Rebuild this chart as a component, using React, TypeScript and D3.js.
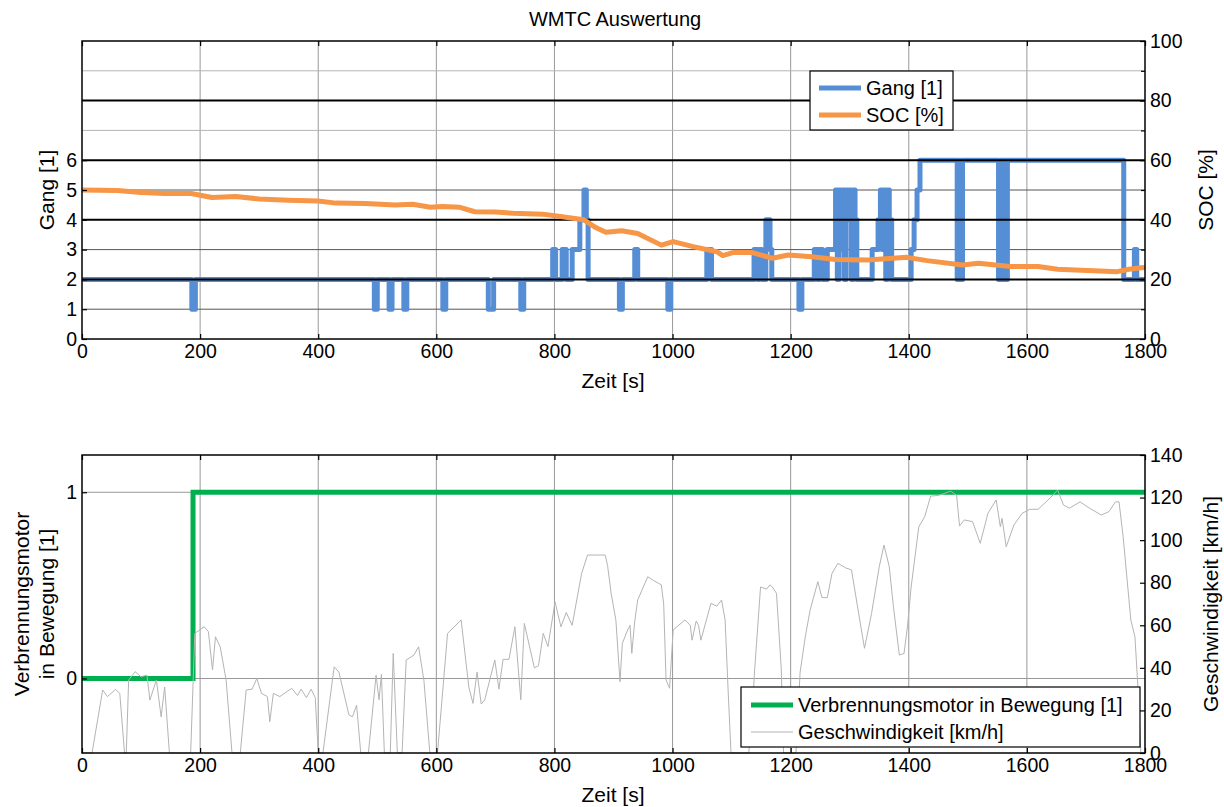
import React, { useEffect, useRef } from 'react';
import * as d3 from 'd3';

// Gang (gear) as step changes: time [s] -> gear
const gangTime = [0, 186, 192, 495, 500, 520, 525, 545, 550, 611, 616, 688, 697, 743, 748,
  797, 802, 813, 820, 830, 843, 850, 854, 857, 910, 915, 936, 941, 992, 997, 1058, 1066,
  1138, 1144, 1147, 1151, 1158, 1165, 1168, 1214, 1219, 1240, 1245, 1249, 1254, 1262,
  1276, 1279, 1282, 1285, 1288, 1291, 1294, 1297, 1300, 1303, 1306, 1309, 1312,
  1338, 1348, 1352, 1355, 1358, 1361, 1364, 1367, 1371, 1404, 1409, 1414, 1419,
  1482, 1485, 1488, 1491, 1552, 1555, 1558, 1561, 1564, 1567, 1764, 1782, 1786, 1800];
const gangValue = [2, 1, 2, 1, 2, 1, 2, 1, 2, 1, 2, 1, 2, 1, 2,
  3, 2, 3, 2, 3, 4, 5, 4, 2, 1, 2, 3, 2, 1, 2, 3, 2,
  3, 2, 3, 2, 4, 3, 2, 1, 2, 3, 2, 3, 2, 3,
  5, 2, 5, 3, 5, 2, 5, 4, 5, 2, 5, 4, 2,
  3, 4, 5, 3, 5, 2, 5, 4, 2, 3, 4, 5, 6,
  2, 6, 2, 6, 2, 6, 2, 6, 2, 6, 2, 3, 2, 2];

// SOC [%]
const socTime = [0, 60, 100, 140, 185, 220, 260, 300, 350, 400, 430, 480, 530, 560, 590, 610,
  640, 665, 700, 730, 780, 810, 850, 870, 887, 914, 941, 981, 1001, 1035, 1075, 1085, 1102,
  1135, 1169, 1196, 1236, 1276, 1330, 1397, 1431, 1491, 1518, 1572, 1619, 1652, 1713, 1753,
  1773, 1793, 1800];
const socValue = [50, 49.8, 49.2, 48.8, 48.8, 47.5, 47.8, 47, 46.6, 46.3, 45.6, 45.5, 45, 45.2, 44.2, 44.5,
  44.2, 42.7, 42.6, 42.2, 41.9, 41.1, 40, 37.4, 35.8, 36.3, 35.4, 31.5, 32.7, 31, 29.3, 28, 29,
  29, 27.1, 28.2, 27.6, 26.7, 26.5, 27.4, 26.3, 24.8, 25.4, 24.3, 24.3, 23.4, 22.9, 22.6,
  23.4, 23.9, 24];

// Verbrennungsmotor in Bewegung [1]
const motorTime = [0, 188, 1800];
const motorValue = [0, 1, 1];

// Geschwindigkeit [km/h]
const speedTime = [0, 17, 35, 43, 57, 64, 72, 75, 79, 90, 100, 110, 115, 126, 134, 140, 148, 184,
  191, 207, 214, 221, 226, 234, 244, 254, 268, 278, 288, 296, 304, 314, 318, 324, 335, 355, 365,
  371, 380, 388, 395, 400, 408, 427, 435, 452, 458, 465, 472, 485, 498, 503, 507, 512, 522, 527,
  534, 542, 549, 562, 570, 579, 589, 602, 619, 642, 655, 662, 669, 676, 682, 699, 706, 713, 723,
  733, 743, 749, 766, 773, 781, 789, 801, 811, 820, 830, 846, 856, 886, 890, 896, 904, 911, 915,
  924, 928, 931, 936, 941, 958, 968, 981, 985, 989, 995, 1001, 1021, 1030, 1033, 1040, 1044, 1048,
  1065, 1075, 1083, 1089, 1094, 1099, 1129, 1135, 1139, 1149, 1159, 1165, 1169, 1176, 1184, 1188,
  1209, 1216, 1225, 1233, 1246, 1253, 1262, 1270, 1280, 1293, 1303, 1317, 1325, 1337, 1350, 1358,
  1367, 1374, 1384, 1392, 1398, 1404, 1417, 1427, 1437, 1450, 1471, 1481, 1486, 1494, 1508, 1521,
  1534, 1548, 1555, 1558, 1565, 1578, 1592, 1605, 1619, 1639, 1652, 1662, 1672, 1690, 1706, 1726,
  1739, 1750, 1756, 1763, 1776, 1783, 1788, 1793, 1800];
const speedValue = [0, 0, 29.6, 26.5, 29.9, 28, 0, 0, 34.3, 38.2, 35.8, 36.6, 24.9, 34.3, 17, 31, 0, 0,
  56.2, 59.3, 57, 39, 54.6, 49.9, 34.3, 0, 0, 29.6, 30, 35, 28, 26.5, 14.7, 28, 26.5, 30.4, 27,
  30, 26, 30, 26, 0, 0, 40.5, 38, 17.9, 17, 22.5, 0, 0, 36.6, 25, 37, 0, 0, 46.8,
  0, 0, 43.7, 46, 49.9, 34, 0, 0, 56.2, 62.5, 31, 23.3, 38, 23, 25, 43.7, 30, 44, 44,
  59.3, 25, 60.9, 40, 41, 56.2, 50, 71, 59.3, 66, 60, 84.4, 93, 93, 88, 75, 62.5, 33.5, 51.5,
  57.8, 60, 46.8, 62, 71.9, 82.8, 81, 79, 70, 34.3, 30.4, 57.8, 62.5, 60, 53, 62, 60, 53,
  70.3, 69, 71.9, 62.5, 30, 0, 0, 20, 39, 78, 77, 79, 78, 75, 40, 0,
  0, 38, 55, 67.2, 80.5, 73, 73, 84.4, 89.1, 87, 86, 62.5, 49.2, 65.6, 87.5, 97.7,
  87.5, 68.7, 46, 46.8, 60, 78, 106.3, 111, 120.7, 121, 123, 121, 106.6, 109.5, 108.7, 98.5,
  112.6, 118.9, 106.3, 110.2, 96.9, 107.1, 112.6, 114.5, 114.5, 119.7, 123.5, 116.5, 115, 118, 115, 111.8,
  113.4, 118, 118, 101.6, 62.5, 54.6, 31, 0, 0];

const xTicks = [0, 200, 400, 600, 800, 1000, 1200, 1400, 1600, 1800];
const gangTicks = [0, 1, 2, 3, 4, 5, 6];
const socTicks = [0, 20, 40, 60, 80, 100];
const socMinorTicks = [10, 30, 50, 70, 90];
const motorTicks = [0, 1];
const speedTicks = [0, 20, 40, 60, 80, 100, 120, 140];

const FONT = 'Liberation Sans, Arial, sans-serif';
const BLUE = '#558ed5';
const ORANGE = '#f79646';
const GREEN = '#00b050';
const fmt = d3.format('d');
const TICK_FS = 19.5;
const LEG_FS = 20;
const LAB_FS = 21;

export default function App() {
  const ref = useRef<SVGSVGElement>(null);

  useEffect(() => {
    document.body.style.margin = '0';
    const svg = d3.select(ref.current);
    svg.selectAll('*').remove();

    const L = 82, R = 1145;
    const x = d3.scaleLinear().domain([0, 1800]).range([L, R]);
    // top panel
    const T1 = 41, B1 = 339;
    const yG = d3.scaleLinear().domain([0, 10]).range([B1, T1]);
    const yS = d3.scaleLinear().domain([0, 100]).range([B1, T1]);
    // bottom panel
    const T2 = 455, B2 = 753;
    const yM = d3.scaleLinear().domain([-0.4, 1.2]).range([B2, T2]);
    const yV = d3.scaleLinear().domain([0, 140]).range([B2, T2]);

    svg.append('rect').attr('width', 1224).attr('height', 807).attr('fill', 'white');

    const tickStyle = (g: any) => {
      g.select('.domain').remove();
      g.selectAll('line').attr('stroke', '#000').attr('stroke-width', 1.2);
      g.selectAll('text').attr('font-family', FONT).attr('font-size', TICK_FS).attr('fill', '#000');
    };

    const stepLine = (ys: any) => d3.line<[number, number]>()
      .x(d => x(d[0])).y(d => ys(d[1])).curve(d3.curveStepAfter);
    const plainLine = (ys: any) => d3.line<[number, number]>()
      .x(d => x(d[0])).y(d => ys(d[1]));

    // ---------- top panel ----------
    const top = svg.append('g');
    top.selectAll('.vg').data(xTicks.slice(1, -1)).join('line')
      .attr('x1', d => x(d)).attr('x2', d => x(d)).attr('y1', T1).attr('y2', B1)
      .attr('stroke', '#999').attr('stroke-width', 1);
    top.selectAll('.hg').data([1, 3, 5, 7, 9]).join('line')
      .attr('x1', L).attr('x2', R).attr('y1', d => yG(d)).attr('y2', d => yG(d))
      .attr('stroke', d => d > 6 ? '#b4b4b4' : '#555').attr('stroke-width', 1);

    top.append('path')
      .attr('d', stepLine(yG)(gangTime.map((t, i) => [t, gangValue[i]] as [number, number])))
      .attr('fill', 'none').attr('stroke', BLUE).attr('stroke-width', 5)
      .attr('stroke-linejoin', 'round');

    top.selectAll('.sg').data([20, 40, 60, 80]).join('line')
      .attr('x1', L).attr('x2', R).attr('y1', d => yS(d)).attr('y2', d => yS(d))
      .attr('stroke', '#000').attr('stroke-width', 2);

    top.append('path')
      .attr('d', plainLine(yS)(socTime.map((t, i) => [t, socValue[i]] as [number, number])))
      .attr('fill', 'none').attr('stroke', ORANGE).attr('stroke-width', 5)
      .attr('stroke-linejoin', 'round');

    top.append('g').attr('transform', `translate(0,${B1})`)
      .call(d3.axisBottom(x).tickValues(xTicks).tickFormat(fmt).tickSizeInner(-5).tickSizeOuter(0).tickPadding(5)).call(tickStyle);
    top.append('g').attr('transform', `translate(0,${T1})`)
      .call(d3.axisTop(x).tickValues(xTicks).tickFormat(() => '').tickSizeInner(-5).tickSizeOuter(0)).call(tickStyle);
    top.append('g').attr('transform', `translate(${L},0)`)
      .call(d3.axisLeft(yG).tickValues(gangTicks).tickFormat(fmt).tickSizeInner(-5).tickSizeOuter(0).tickPadding(5)).call(tickStyle);
    top.append('g').attr('transform', `translate(${R},0)`)
      .call(d3.axisRight(yS).tickValues(socTicks).tickFormat(fmt).tickSizeInner(-5).tickSizeOuter(0).tickPadding(5)).call(tickStyle);
    top.append('g').attr('transform', `translate(${R},0)`)
      .call(d3.axisRight(yS).tickValues(socMinorTicks).tickFormat(() => '').tickSizeInner(-4).tickSizeOuter(0)).call(tickStyle);
    top.append('rect').attr('x', L).attr('y', T1).attr('width', R - L).attr('height', B1 - T1)
      .attr('fill', 'none').attr('stroke', '#000').attr('stroke-width', 1.5);

    // legend top
    const lg1 = top.append('g').attr('transform', 'translate(810,71)');
    lg1.append('rect').attr('width', 143).attr('height', 59).attr('fill', 'white')
      .attr('stroke', '#000').attr('stroke-width', 1.2);
    [['Gang [1]', BLUE], ['SOC [%]', ORANGE]].forEach(([label, color], i) => {
      const yy = 17 + i * 27;
      lg1.append('line').attr('x1', 9).attr('x2', 51).attr('y1', yy).attr('y2', yy)
        .attr('stroke', color).attr('stroke-width', 5);
      lg1.append('text').attr('x', 56).attr('y', yy).attr('dy', '0.35em')
        .attr('font-family', FONT).attr('font-size', LEG_FS).text(label);
    });

    // ---------- bottom panel ----------
    const bot = svg.append('g');
    bot.selectAll('.vg').data(xTicks.slice(1, -1)).join('line')
      .attr('x1', d => x(d)).attr('x2', d => x(d)).attr('y1', T2).attr('y2', B2)
      .attr('stroke', '#999').attr('stroke-width', 1);
    bot.selectAll('.hg').data(motorTicks).join('line')
      .attr('x1', L).attr('x2', R).attr('y1', d => yM(d)).attr('y2', d => yM(d))
      .attr('stroke', '#999').attr('stroke-width', 1);

    bot.append('path')
      .attr('d', stepLine(yM)(motorTime.map((t, i) => [t, motorValue[i]] as [number, number])))
      .attr('fill', 'none').attr('stroke', GREEN).attr('stroke-width', 5);

    bot.append('path')
      .attr('d', plainLine(yV)(speedTime.map((t, i) => [t, speedValue[i]] as [number, number])))
      .attr('fill', 'none').attr('stroke', '#b4b4b4').attr('stroke-width', 1);

    bot.append('g').attr('transform', `translate(0,${B2})`)
      .call(d3.axisBottom(x).tickValues(xTicks).tickFormat(fmt).tickSizeInner(-5).tickSizeOuter(0).tickPadding(5)).call(tickStyle);
    bot.append('g').attr('transform', `translate(0,${T2})`)
      .call(d3.axisTop(x).tickValues(xTicks).tickFormat(() => '').tickSizeInner(-5).tickSizeOuter(0)).call(tickStyle);
    bot.append('g').attr('transform', `translate(${L},0)`)
      .call(d3.axisLeft(yM).tickValues(motorTicks).tickFormat(fmt).tickSizeInner(-5).tickSizeOuter(0).tickPadding(5)).call(tickStyle);
    bot.append('g').attr('transform', `translate(${R},0)`)
      .call(d3.axisRight(yV).tickValues(speedTicks).tickFormat(fmt).tickSizeInner(-5).tickSizeOuter(0).tickPadding(5)).call(tickStyle);
    bot.append('rect').attr('x', L).attr('y', T2).attr('width', R - L).attr('height', B2 - T2)
      .attr('fill', 'none').attr('stroke', '#000').attr('stroke-width', 1.5);

    // legend bottom
    const lg2 = bot.append('g').attr('transform', 'translate(741,687)');
    lg2.append('rect').attr('width', 399).attr('height', 60).attr('fill', 'white')
      .attr('stroke', '#000').attr('stroke-width', 1.2);
    ([['Verbrennungsmotor in Bewegung [1]', GREEN, 5], ['Geschwindigkeit [km/h]', '#b4b4b4', 1]] as [string, string, number][])
      .forEach(([label, color, w], i) => {
        const yy = 18 + i * 27;
        lg2.append('line').attr('x1', 10).attr('x2', 52).attr('y1', yy).attr('y2', yy)
          .attr('stroke', color).attr('stroke-width', w);
        lg2.append('text').attr('x', 57).attr('y', yy).attr('dy', '0.35em')
          .attr('font-family', FONT).attr('font-size', LEG_FS).text(label);
      });

    // ---------- titles / labels ----------
    const label = (txt: string, xx: number, yy: number, rot = 0, size = LAB_FS) =>
      svg.append('text').attr('transform', `translate(${xx},${yy}) rotate(${rot})`)
        .attr('text-anchor', 'middle').attr('dy', '0.35em')
        .attr('font-family', FONT).attr('font-size', size).text(txt);

    label('WMTC Auswertung', 615, 19, 0, 20);
    label('Zeit [s]', 613, 381);
    label('Zeit [s]', 613, 795);
    label('Gang [1]', 47, 190, -90);
    label('SOC [%]', 1206, 190, -90);
    label('Verbrennungsmotor', 22, 604, -90);
    label('in Bewegung [1]', 47, 604, -90);
    label('Geschwindigkeit [km/h]', 1211, 604, -90);
  }, []);

  return <svg ref={ref} width={1224} height={807} style={{ display: 'block' }} />;
}
